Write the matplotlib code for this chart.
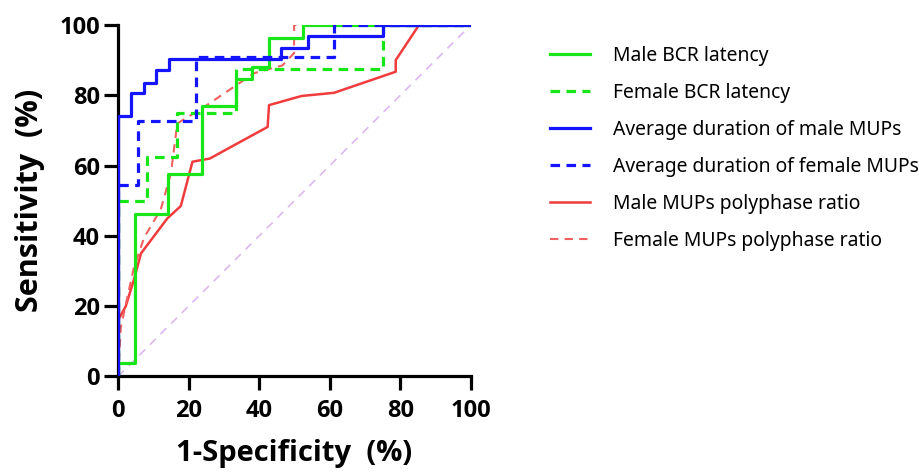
import matplotlib
matplotlib.use("Agg")
from matplotlib import pyplot as plt

# ROC curves (1-Specificity %, Sensitivity %)
male_bcr_x = [0, 0, 4.8, 4.8, 14.3, 14.3, 23.8, 23.8, 33.3, 33.3, 38.1, 38.1, 42.9, 42.9, 52.4, 52.4, 100]
male_bcr_y = [0, 3.8, 3.8, 46.2, 46.2, 57.7, 57.7, 76.9, 76.9, 84.6, 84.6, 88.0, 88.0, 96.2, 96.2, 100, 100]

female_bcr_x = [0, 0, 8.3, 8.3, 16.7, 16.7, 33.3, 33.3, 75, 75, 100]
female_bcr_y = [0, 50, 50, 62.5, 62.5, 75, 75, 87.5, 87.5, 100, 100]

male_dur_x = [0, 0, 3.6, 3.6, 7.4, 7.4, 10.9, 10.9, 14.5, 14.5, 46.1, 46.1, 53.7, 53.7, 75, 75, 100]
male_dur_y = [0, 74.2, 74.2, 80.6, 80.6, 83.6, 83.6, 87.1, 87.1, 90.3, 90.3, 93.5, 93.5, 96.8, 96.8, 100, 100]

female_dur_x = [0, 0, 5.6, 5.6, 22.2, 22.2, 61.1, 61.1, 100]
female_dur_y = [0, 54.5, 54.5, 72.7, 72.7, 90.9, 90.9, 100, 100]

male_poly_x = [0, 0, 2.2, 4.5, 6.5, 14, 17.8, 21.1, 26, 42.4, 42.8, 52, 61.2, 78.7, 78.7, 85.3, 100]
male_poly_y = [0, 16, 20, 27.5, 35, 45, 48.5, 61.1, 62, 71, 77.2, 79.8, 80.7, 86.7, 90, 100, 100]

female_poly_x = [0, 0.8, 4.5, 7.4, 12.1, 15, 16.8, 23.4, 38.6, 46.6, 49.9, 49.9, 100]
female_poly_y = [0, 14, 31, 39.5, 47.5, 57.8, 72, 76, 86.3, 88.5, 92, 100, 100]

ticks = [0, 20, 40, 60, 80, 100]

plt.rcParams['font.family'] = ['Open Sans', 'DejaVu Sans']

fig = plt.figure(figsize=(9.19, 4.75), dpi=100)
ax = fig.add_axes([0.1284, 0.2074, 0.384, 0.740])

ax.plot([0, 100], [0, 100], color='#dcb8f0', lw=1.2, ls=(0, (5, 4)), zorder=1)

ax.plot(male_bcr_x, male_bcr_y, color='#19e619', lw=2.3, label='Male BCR latency', zorder=3)
ax.plot(female_bcr_x, female_bcr_y, color='#19e619', lw=2.3, ls=(0, (3, 2)), label='Female BCR latency', zorder=3)
ax.plot(male_dur_x, male_dur_y, color='#1414ff', lw=2.3, label='Average duration of male MUPs', zorder=4)
ax.plot(female_dur_x, female_dur_y, color='#1414ff', lw=2.3, ls=(0, (3, 2)), label='Average duration of female MUPs', zorder=4)
ax.plot(male_poly_x, male_poly_y, color='#f03c3c', lw=1.8, label='Male MUPs polyphase ratio', zorder=2)
ax.plot(female_poly_x, female_poly_y, color='#f06060', lw=1.5, ls=(0, (4, 3)), label='Female MUPs polyphase ratio', zorder=2)

ax.set_xlim(0, 100)
ax.set_ylim(0, 100)
ax.set_xticks(ticks)
ax.set_yticks(ticks)
for s in ['top', 'right']:
    ax.spines[s].set_visible(False)
for s in ['left', 'bottom']:
    ax.spines[s].set_linewidth(2.3)
ax.tick_params(width=2.3, length=10, labelsize=17)
ax.tick_params(axis='x', pad=6)
ax.tick_params(axis='y', pad=3)
for lab in ax.get_xticklabels() + ax.get_yticklabels():
    lab.set_fontweight('bold')

ax.set_xlabel('1-Specificity  (%)', fontsize=21, fontweight='bold', labelpad=12)
ax.set_ylabel('Sensitivity  (%)', fontsize=22, fontweight='bold', labelpad=10)

leg = fig.legend(loc='upper left', bbox_to_anchor=(0.58, 0.94), frameon=False,
                 prop={'family': ['Noto Sans', 'DejaVu Sans'], 'size': 13.9},
                 handlelength=2.05, handletextpad=1.2, labelspacing=0.88)

fig.savefig('out.png', dpi=100)
